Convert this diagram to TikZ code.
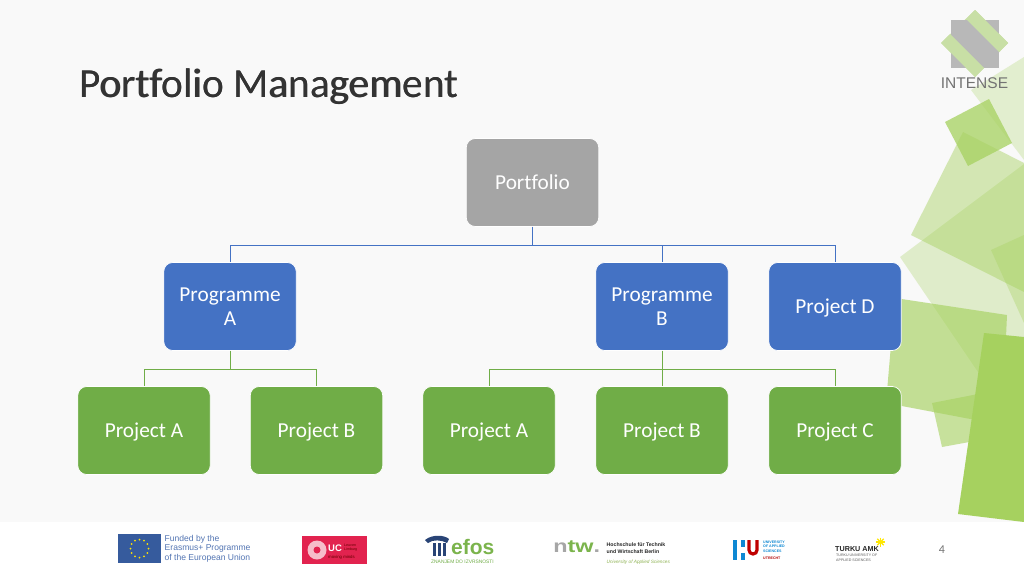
\documentclass[tikz,border=0pt]{standalone}
\usepackage{fontspec}
\setmainfont{Carlito}[Ligatures=NoCommon]
\newfontfamily\lsans{Liberation Sans}
\usetikzlibrary{shapes.geometric}
\definecolor{bgc}{HTML}{F9F9F9}
\definecolor{blu}{HTML}{4472C4}
\definecolor{grn}{HTML}{70AD47}
\definecolor{gry}{HTML}{A5A5A5}
\definecolor{leaf}{HTML}{A6D15F}
\definecolor{ucred}{HTML}{E2234F}
\definecolor{strip}{HTML}{C8DFA5}
\tikzset{
 x=1pt,y=-1pt,
 card/.style={draw=white,line width=.7pt,rounded corners=9pt,minimum width=132.5pt,minimum height=88pt,text=white,align=center,font=\fontsize{21.3}{23.5}\selectfont,inner sep=0pt,text depth=0pt},
 blueline/.style={draw=blu,line width=1pt},
 greenline/.style={draw=grn,line width=1pt},
 lbl/.style={inner sep=0pt,anchor=west,align=left}
}
\begin{document}
\begin{tikzpicture}
\useasboundingbox (0,0) rectangle (1024,576);
\fill[bgc] (0,0) rectangle (1024,576);
% decorative shapes
\begin{scope}
\clip (0,0) rectangle (1024,522);
\fill[leaf,opacity=.27] (1024,57) -- (971,90) -- (1024,160) -- cycle;
\fill[leaf,opacity=.3] (900,257) -- (1024,164) -- (1024,440) -- (980,375) -- cycle;
\fill[leaf,opacity=.45] (963,132) -- (1024,163) -- (1024,292) -- (911,235) -- cycle;
\fill[leaf,opacity=.35] (1024,235) -- (991,250) -- (1024,323) -- cycle;
\fill[leaf,opacity=.75] (989,99) -- (1012,143) -- (968,166) -- (945,122) -- cycle;
\fill[leaf,opacity=.6] (932,403) -- (1024,385) -- (1035,430) -- (942,447) -- cycle;
\fill[leaf,opacity=.65] (895,298) -- (1007,315) -- (1002,425) -- (886,403) -- cycle;
\fill[leaf] (984,333) -- (1024,337) -- (1024,522) -- (958,514) -- cycle;
\end{scope}
% logo
\fill[strip] (975,10) -- (1008,43) -- (975,77) -- (941,43) -- cycle;
\fill[black!28] (951,20) rectangle (999,68);
\fill[strip] (975,10) -- (1008,43) -- (999,52) -- (966,19) -- cycle;
\fill[strip] (941,43) -- (975,77) -- (984,68) -- (950,34) -- cycle;
\node[inner sep=0pt,text=black!55] (intense) at (974.5,83.5) {\lsans\fontsize{15.5}{16}\selectfont INTENSE};
% title
\node[lbl,font=\fontsize{41.3}{44}\selectfont,text=black!80] (titleb) at (79.5,86.5) {Portfolio Management};
\node[lbl,font=\fontsize{41.3}{44}\selectfont,text=black!80] (title) at (79,86.5) {Portfolio Management};
% connectors
\coordinate (busA) at (532.5,245);
\coordinate (busB) at (230,369);
\coordinate (busC) at (662,369);
% cards
\node[card,fill=gry] (pf) at (532.5,182.5) {Portfolio};
\node[card,fill=blu] (pa) at (230,306.5) {Programme\\A};
\node[card,fill=blu] (pb) at (662,306.5) {Programme\\B};
\node[card,fill=blu] (pd) at (835,306.5) {Project D};
\node[card,fill=grn] (a1) at (144,430.5) {Project A};
\node[card,fill=grn] (a2) at (316.5,430.5) {Project B};
\node[card,fill=grn] (b1) at (489,430.5) {Project A};
\node[card,fill=grn] (b2) at (662,430.5) {Project B};
\node[card,fill=grn] (b3) at (835,430.5) {Project C};
\draw[blueline] (pf.south) -- (busA) -| (pa.north);
\draw[blueline] (pf.south) -- (busA) -| (pb.north);
\draw[blueline] (pf.south) -- (busA) -| (pd.north);
\draw[greenline] (pa.south) -- (busB) -| (a1.north);
\draw[greenline] (pa.south) -- (busB) -| (a2.north);
\draw[greenline] (pb.south) -- (busC) -| (b1.north);
\draw[greenline] (pb.south) -- (busC) -- (b2.north);
\draw[greenline] (pb.south) -- (busC) -| (b3.north);
% footer
\fill[white] (0,522) rectangle (1024,576);
\fill[blu!80!black] (118,534) rectangle (161,563);
\foreach \a in {0,30,...,330}{\fill[yellow!85!orange] (139.5,548.5) ++(\a:-9pt) circle (1pt);}
\node[lbl,text=blu!75!gray,font=\lsans\fontsize{8.55}{9.4}\selectfont] (eu) at (164.5,548.5) {Funded by the\\Erasmus+ Programme\\of the European Union};
\fill[ucred] (302,536) rectangle (367,564);
\fill[white!70!ucred] (317,550) circle (9.5pt);
\fill[ucred] (317,550) circle (3.5pt);
\node[lbl,text=white,font=\lsans\bfseries\fontsize{9.5}{10}\selectfont] (uc) at (328,548) {UC};
\node[lbl,text=black!60!red,font=\lsans\fontsize{3.6}{3.9}\selectfont] (ucb) at (344,545.5) {Leuven};
\node[lbl,text=black!60!red,font=\lsans\fontsize{3.6}{3.9}\selectfont] (ucd) at (344,550) {Limburg};
\node[lbl,text=black!60!red,font=\lsans\fontsize{4.3}{4.5}\selectfont] (ucc) at (328,557.5) {moving minds};
\node[lbl,text=grn!80!leaf,font=\lsans\bfseries\fontsize{21}{21}\selectfont] (efos) at (451,547) {efos};
\fill[blu!60!black] (425,540) .. controls (432,534) and (445,535) .. (449,539) -- (447,543) .. controls (442,540) and (433,539) .. (428,543) -- cycle;
\fill[blu!60!black] (433,543) rectangle (436,556);
\fill[blu!60!black] (438,543) rectangle (441,556);
\fill[blu!60!black] (443,543) rectangle (446,556);
\node[lbl,text=grn,font=\lsans\fontsize{4.9}{5}\selectfont] (efoss) at (431,561.5) {ZNANJEM DO IZVRSNOSTI};
\node[lbl,text=grn!80!leaf,xscale=1.3,font=\lsans\bfseries\fontsize{18}{18}\selectfont] (ntw) at (553,546.5) {\textcolor{gray!70}{n}tw\textcolor{gray!70}{.}};
\node[lbl,text=black!85,font=\lsans\bfseries\fontsize{5.2}{7}\selectfont] (htw) at (606.5,548.5) {Hochschule für Technik\\und Wirtschaft Berlin};
\node[lbl,text=leaf!85!black,font=\lsans\itshape\fontsize{4.7}{5}\selectfont] (uas) at (606.5,562.5) {University of Applied Sciences};
\fill[cyan!70!blue] (733,540) rectangle (737,560);
\fill[cyan!70!blue] (741,540) rectangle (745,547);
\fill[cyan!70!blue] (741,553) rectangle (745,560);
\draw[red!75!black,line width=3.2pt] (749,540) -- (749,550) arc[start angle=180,end angle=360,radius=4pt] -- (757,540);
\node[lbl,text=cyan!70!blue,font=\lsans\bfseries\fontsize{3.6}{4.6}\selectfont] (hu) at (763,546.5) {UNIVERSITY\\OF APPLIED\\SCIENCES};
\node[lbl,text=red!70!black,font=\lsans\bfseries\fontsize{3.6}{4}\selectfont] (hu2) at (763,558.5) {UTRECHT};
\node[lbl,text=black!85,font=\lsans\bfseries\fontsize{7.2}{8}\selectfont] (tk) at (835,549.5) {TURKU AMK};
\node[lbl,text=black!65,font=\lsans\fontsize{3.6}{4.6}\selectfont] (tk2) at (836,557.5) {TURKU UNIVERSITY OF\\APPLIED SCIENCES};
\foreach \a in {0,45,135}{\draw[yellow!90!orange,line width=1.3pt] (880.5,542) ++(\a:-4.5pt) -- ++(\a:9pt);}
\draw[yellow!90!orange,line width=1.3pt] (880.5,537.5) -- (880.5,546.5);
\node[inner sep=0pt,text=black!55,font=\fontsize{12}{14}\selectfont] (num) at (942,549.5) {4};
\end{tikzpicture}
\end{document}
